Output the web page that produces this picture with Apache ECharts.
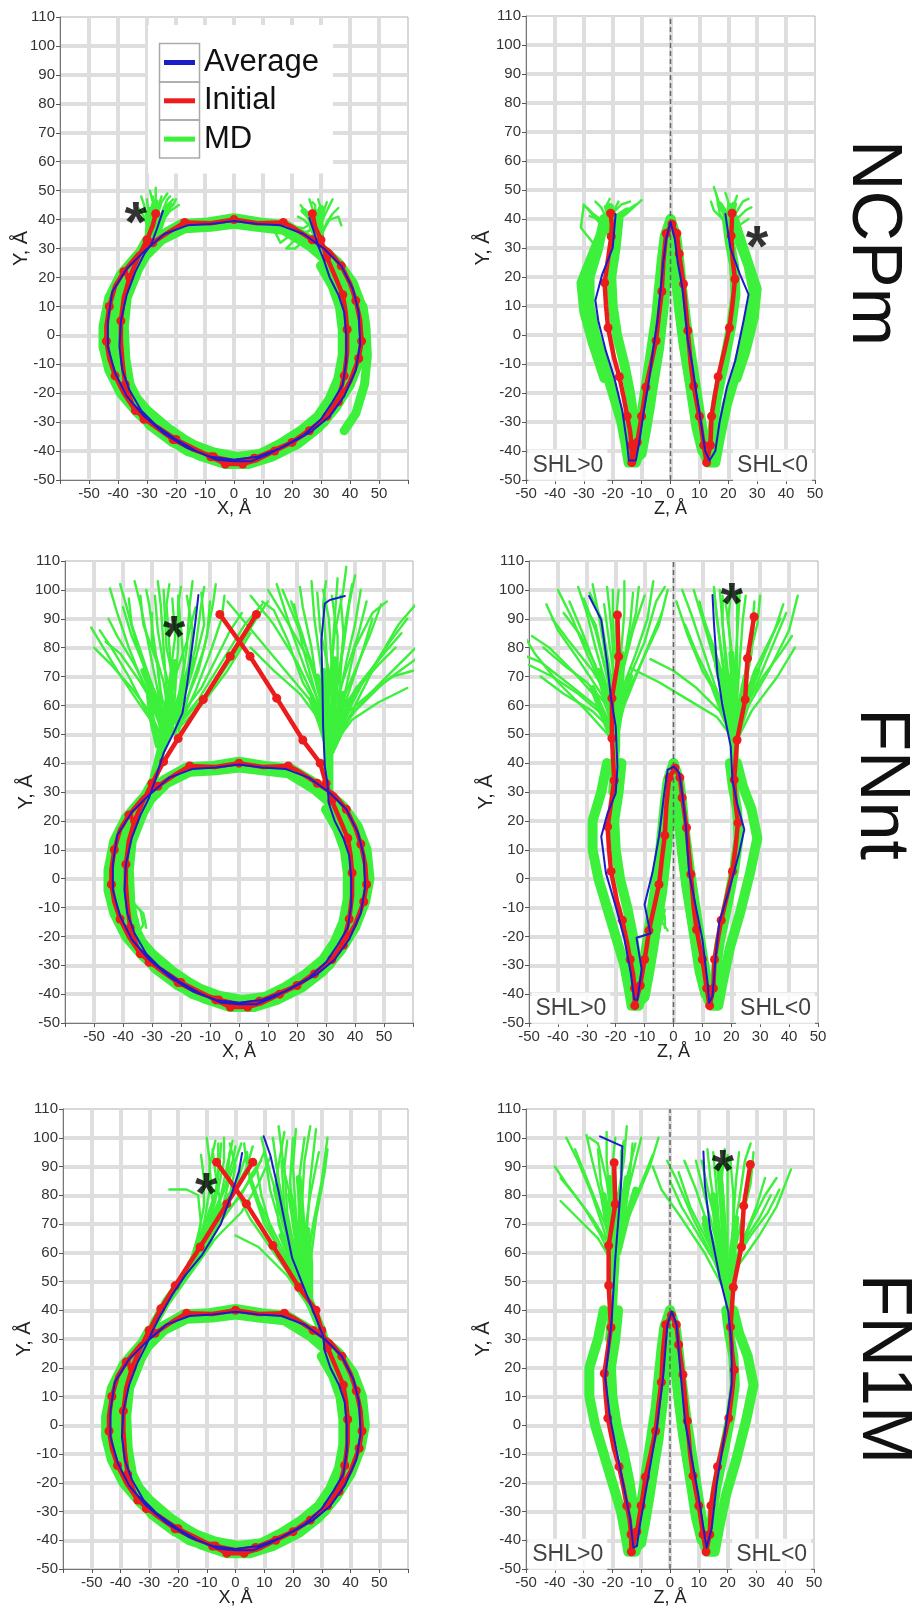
<!DOCTYPE html>
<html>
<head>
<meta charset="utf-8">
<script src="https://cdn.jsdelivr.net/npm/echarts@6/dist/echarts.min.js"></script>
<style>
  html, body { margin: 0; padding: 0; background: #fff; }
  #chart { width: 914px; height: 1606px; }
</style>
</head>
<body>
<div id="chart"></div>
<script>
// Axis ranges (Å) and tick step
const tickStep = 10;
const rangeXY = [-60, 60];
const rangeZY = [-50, 50];
const rangeY = [-50, 110];
const xLabelLimit = 50;

// ---------- Initial structure, X–Y projection: [x, y, bead] ----------
const coreInitialXY = [
  [-30,33,1],[-33,27,0],[-36,20,1],[-38,13,0],[-39,5,1],[-39,-2,0],[-38.5,-9,0],[-37.5,-17,1],[-35,-24,0],
  [-31,-29,1],[-26,-32,0],[-20,-36,1],[-14,-39,0],[-8,-42,1],[-3,-44.5,1],[3,-44.5,1],[8,-43,0],[14,-40,1],
  [20,-37,0],[26,-33,1],[31,-29,0],[36,-23,1],[40,-16,0],[43,-8,1],[44,-2,1],[43.5,5,0],[42,12,1],[40,18,0],
  [37,24,1],[33,29,0],[27,33,1],[20,37.5,0],[17,39,1],[8,38.7,0],[0,40,1],[-8,38.7,0],[-17,39,1],[-22,36,0],
  [-28,32,1],[-33,28,0],[-38,22,1],[-41,17,0],[-43,10,1],[-44,3,0],[-44,-2,1],[-43,-8,0],[-41,-14,1],
  [-38,-20,0],[-34,-26,1],[-28,-31,0],[-21,-36,1],[-14,-39.5,0],[-7,-42,1],[0,-43.5,0],[7,-42.5,1],
  [13,-40,0],[20,-37,1],[27,-32,0],[32,-28,1],[36,-22,0],[38,-14,1],[39,-6,0],[39,2,1],[38.5,8,0],
  [37.5,14,1],[35,20,0],[32,27,1],[30,33,1]
];
const ncpmInitialLeftXY = [[-27,42,1],[-28,38,0]];
const ncpmInitialRightXY = [[28,37.5,0],[27,42,1]];
const linkerInitialLeftXY = [[6,91.5,1],[-3,77,1],[-12.3,62,1],[-21,48.5,1],[-26,40.5,1]];
const linkerInitialRightXY = [[28,40,1],[22,48,1],[13,62.5,1],[3.8,77,1],[-6.6,91.5,1]];

// ---------- Initial structure, Z–Y projection: [z, y, bead] ----------
const coreInitialZY = [
  [-20.5,34,1],[-21.5,27,0],[-22.8,18,1],[-22.3,10,0],[-21.6,2.5,1],[-19.5,-8,0],[-17.7,-14.4,1],[-16.3,-21,0],
  [-15,-28,1],[-14,-33,0],[-13.5,-38,1],[-13.4,-44,1],[-11.5,-37,1],[-10,-28,1],[-9.2,-23,0],[-8.5,-18,1],
  [-6.5,-9,0],[-5,-2,1],[-4,7,0],[-3,15,1],[-2.5,25,0],[-1.5,35,1],[0.5,38.3,1],[2.2,35,1],[3,28,1],
  [4.5,17.6,1],[5.2,10,0],[6,1.5,1],[7,-10,0],[8,-17.6,1],[9,-23,0],[10,-28,1],[11.5,-38,1],[12.5,-44,1],
  [13.8,-38,1],[14.2,-28,1],[15.5,-20,0],[16.5,-14.4,1],[18.5,-6,0],[20.4,2.5,1],[21.5,11,0],[22.3,19.3,1],
  [21.5,26,0],[21,34.2,1]
];
const ncpmInitialLeftZY = [[-20.7,42,1],[-20.3,38,0]];
const ncpmInitialRightZY = [[21.2,38,0],[21.3,42,1]];
const linkerInitialLeftZY = [[-19.4,91.3,1],[-19,76.9,1],[-21.3,62.5,1],[-21.3,48.6,1]];
const linkerInitialRightZY = [[22,48,1],[24.8,62,1],[25.6,76.3,1],[27.9,90.7,1]];

// ---------- Average MD structure, X–Y projection ----------
const coreAverageXY = [
  [-31,28],[-34,22],[-37,14],[-39,5],[-39.5,-4],[-38.5,-12],[-36,-19],[-32,-26],[-27,-31],[-20,-36],[-13,-40],
  [-6,-43],[0,-43.5],[6,-43.5],[12,-41],[20,-37],[27,-33],[33,-28],[38,-21],[42,-12],[43.5,-3],[43,8],[41,16],
  [37,24],[31,30],[24,35],[16,38],[8,38.5],[0,39.5],[-8,38.5],[-16,38],[-24,35],[-31,29],[-37,23],[-42,15],
  [-43.5,5],[-43.5,-4],[-41,-13],[-37,-21],[-31,-28],[-24,-34],[-16,-39],[-8,-42],[0,-43],[8,-42],[16,-39],
  [24,-34.5],[30,-29],[34,-23],[37.5,-17],[38.7,-9],[38.7,0],[38,8],[36,14],[33,20],[31,26]
];
const ncpmAverageLeftXY = [[-24.5,43],[-26.5,37],[-28.5,31.5]];
const ncpmAverageRightXY = [[29,31],[27.5,36],[26,40.5]];
const fnntAverageLeftXY = [[-14,98.2],[-15.1,88.4],[-16.3,79.2],[-18,66.5],[-19.5,57.3],[-22.6,50.4],[-26,43.5],[-28.9,34.2]];
const fnntAverageRightXY = [[30.5,33],[29.6,38.8],[29,52.7],[28.8,66.5],[28.4,82.6],[29.6,95.3],[31.3,96.5],[36.5,97.9]];
const fn1mAverageLeftXY = [[2.3,94.7],[1.2,88.3],[-1.5,80],[-5.2,69.8],[-11.6,59.3],[-17.3,52.4],[-22,45.4],[-26.6,37.3],[-28.9,32.7]];
const fn1mAverageRightXY = [[30.5,31],[28.9,35],[24.3,46.6],[19.7,58.2],[17.3,69.8],[15,81.3],[12.1,94],[9.8,100.5]];

// ---------- Average MD structure, Z–Y projection ----------
const ncpmAverageZY = [
  [-19,41.7],[-20,30],[-23.6,21],[-26,12],[-25,5],[-22.4,-5.4],[-19.5,-14.6],[-16.7,-26],[-15,-37.6],[-14.4,-43.3],
  [-12,-43.3],[-10.8,-37],[-9.5,-28],[-7.5,-16],[-6,-5],[-4.5,5],[-3.5,15],[-2.5,25],[-1.5,33],[0,39],[1.5,33],
  [2.5,25],[4,17],[5,8],[6,-2],[7.5,-10],[8.5,-17],[10.5,-30],[12,-40],[13.5,-43.3],[15.5,-40],[17,-30],
  [19.5,-18],[22.4,-8.9],[25.3,5],[27,14],[24,21],[20.7,30],[19,41.7]
];
const fnntAverageZY = [
  [-29.2,97.9],[-25,89.6],[-23,75],[-21.7,63],[-20,52.7],[-19.4,38.8],[-20,29.6],[-22.8,22.7],[-25,14.6],[-23.4,2],
  [-20,-9.6],[-17,-21],[-14.8,-32.6],[-13.6,-41.8],[-12.5,-42],[-11,-31.5],[-12.8,-20.5],[-8,-19],[-10,-9],[-7.3,2],
  [-5,14.6],[-3.2,29.6],[-2,37.7],[0.2,38.8],[2,36.5],[3,29.6],[4.3,18],[5.4,2],[7.7,-9.6],[10,-21],[11.8,-36],
  [12.3,-43],[13.5,-40.7],[14.5,-28],[15.8,-15.3],[19.3,-3.8],[22.7,8.9],[24.5,17],[22,26],[20.4,34],[19.8,45.8],
  [17,59.6],[15.2,71],[14,88.4],[13.5,98.2]
];
const fn1mAverageZY = [
  [-24.3,100.5],[-16.5,97],[-17,83.7],[-17.9,72],[-19,58],[-20.2,37.3],[-21.4,25.7],[-22.5,16.5],[-20.8,2.5],
  [-18.5,-9],[-16.2,-20.6],[-13.9,-32.2],[-12.7,-42.6],[-11.5,-42],[-10.4,-34.5],[-7,-14.8],[-4.6,-1],[-2.3,17.6],
  [-0.9,35],[0.6,39.6],[2.3,35],[3.5,20],[5.2,1.4],[7.5,-11.4],[9.8,-24],[11.6,-35.7],[12.7,-42.6],[14.5,-35.7],
  [16.2,-20.6],[19,-3.2],[21.4,14],[21.4,28],[20.2,39.6],[17.3,51.2],[13.9,68.6],[12.1,83.7],[11.6,95.2]
];

// ---------- MD trajectories: dense core envelope (drawn wide) ----------
const mdCoreXY = [
  [[-30,33],[-35,24],[-39,15],[-41,5],[-41,-6],[-39,-15],[-35,-23],[-29,-31],[-21,-37],[-12,-41.5],[-3,-44.5],
   [5,-44.5],[13,-42],[22,-37.5],[29,-32],[35,-25],[40,-17],[43.5,-8],[45,0],[44,10],[41,18],[36,25],[28,32],
   [18,38],[9,39],[0,40.5],[-9,39],[-18,38.5],[-26,34],[-33,28],[-39,21],[-43,13],[-45,3],[-45,-4],[-43,-12],
   [-39,-20],[-33,-27],[-25,-34],[-16,-40],[-7,-43],[1,-44],[9,-43],[17,-40],[25,-35],[31,-30],[36,-23],[39,-15],
   [40.5,-6],[40.5,3],[39.5,12],[36,19],[32,26]],
  [[-28,32],[-33,23],[-37,13],[-38,3],[-37.5,-8],[-36,-17],[-32,-25],[-26,-31],[-19,-35],[-11,-39.5],[-3,-42.5],
   [5,-42.5],[13,-39.5],[21,-35.5],[28,-30.5],[33,-24],[37.5,-16],[41.5,-7],[42.5,2],[41.5,11],[38,18],[33,25],
   [26,31],[17,36.5],[8,37.5],[0,38.5],[-8,37.5],[-17,37],[-25,33],[-31,27],[-37,20],[-40.5,12],[-42,3],[-42,-5],
   [-40,-12],[-36,-19],[-30,-26],[-23,-32],[-15,-37.5],[-7,-40.5],[1,-42],[9,-41],[16,-37.5],[23,-33],[29,-28],
   [33,-22],[36,-15],[37.5,-7],[37.5,2],[36.5,10],[34,17],[30,24]]
];
const mdCoreZY = [
  [[-23,40],[-25,30],[-28,20],[-28,10],[-26,0],[-23,-10],[-20,-20],[-17,-30],[-15.5,-38],[-14.5,-44],[-12,-44],
   [-10,-38],[-8,-28],[-6,-17],[-4,-5],[-2.5,8],[-1.5,20],[-0.8,32],[0,40],[1,33],[2,22],[3.5,10],[5,-2],[7,-14],
   [9,-26],[11,-37],[13,-44],[15.5,-44],[17,-36],[19.5,-24],[23,-12],[26.5,2],[29,14],[27,24],[24,32],[22,40]],
  [[-18,40],[-19,30],[-20.5,20],[-20,10],[-18.5,0],[-16,-10],[-14,-20],[-12.5,-30],[-12,-38],[-12.5,-43],[-10,-41],
   [-8.5,-33],[-7,-24],[-5.5,-13],[-4,-2],[-3,10],[-2,22],[-1,33],[0,38],[0.8,30],[2,20],[3,9],[4.5,-3],[6.5,-15],
   [8.5,-26],[10.5,-35],[12,-42],[14,-41],[14.5,-33],[16,-22],[18.5,-10],[21,3],[22.5,14],[22,24],[20.5,32],[19.5,40]],
  [[-13,-42],[-11,-34],[-9.5,-24],[-8,-14],[-6.5,-4],[-5,6],[-4,16],[-3,26],[-2,34],[0,40],[2,34],[3,26],[4,16],
   [5.5,4],[7,-6],[8.5,-16],[10,-26],[11.5,-35],[12.5,-42]],
  [[-12,-40],[-9,-32],[-7,-22],[-5.5,-12],[-4,-2],[-3,8],[-2,18],[-1,28],[0,36],[1,28],[2,18],[3.2,8],[4.5,-2],
   [6,-12],[7.5,-22],[9,-32],[11,-40]]
];

// ---------- MD trajectories: arm envelopes (drawn wide) ----------
const ncpmBandXY = [
  [[-29.5,32],[-29,38],[-28.5,43]], [[29.5,31],[29.5,37],[29,42]],
  [[38,-33],[42,-27],[45,-17],[46,-7],[45.5,3],[44.5,10]]
];
const ncpmBandZY = [
  [[-22,40],[-27,28],[-31,18],[-30,8],[-27,-3],[-23,-15]], [[22,40],[26,28],[30,16],[29,6],[26,-6],[23,-15]],
  [[-20.5,34],[-21,40],[-21,44]], [[21,34],[21,40],[21,44]]
];
const fnntBandXY = [
  [[-31,28],[-29,36],[-27,44],[-25,52],[-23,58]], [[31,27],[31,35],[31,44],[32,52]]
];
const fnntBandZY = [
  [[-21,30],[-20.5,38],[-20,46],[-20,54]], [[21,30],[21,38],[21,46],[21.5,54]]
];
const fn1mBandXY = [
  [[-31,28],[-28,36],[-24,43],[-19,50],[-14,57],[-9,64]], [[32,26],[30,33],[27,40],[24,47],[21,55],[19,62]]
];
const fn1mBandZY = [
  [[-21,30],[-20,40],[-19.5,50],[-19,58]], [[21,30],[21,38],[20.5,46],[20,52]]
];

// ---------- MD trajectories: crowded bases of the linker fans (medium width) ----------
const ncpmDenseXY = [
  [[-28,34],[-28,42],[-27,46]], [[-26,36],[-24,42],[-22,45]], [[29,34],[29,40],[30,44]], [[28,36],[26,41],[24,43]]
];
const ncpmDenseZY = [
  [[-21,36],[-21,41],[-22,44]], [[-20,37],[-18,41],[-15,43]], [[21,36],[21,41],[22,45]], [[21,37],[19,42],[17,45]]
];
const fnntDenseXY = [
  [[-27,45],[-26,55],[-24,65],[-22,75]], [[-25,48],[-22,58],[-18,68]], [[-28,46],[-30,55],[-31,63]],
  [[-26,50],[-29,62],[-33,72]], [[-24,52],[-20,64],[-16,76]],
  [[31,42],[31,52],[30,62],[29,72]], [[32,44],[34,54],[36,64]], [[31,44],[28,54],[25,62]],
  [[32,48],[30,60],[27,70]], [[33,48],[37,58],[41,66]], [[31,46],[33,64],[33,76]]
];
const fnntDenseZY = [
  [[-20,45],[-21,58],[-22,70]], [[-20,48],[-18,60],[-15,70]], [[-21,48],[-25,58],[-28,66]],
  [[-20,50],[-23,62],[-26,72]], [[-20,52],[-19,66],[-18,78]],
  [[21,45],[20,58],[19,70]], [[21,48],[23,60],[25,70]], [[21,48],[17,58],[14,66]],
  [[21,50],[21,64],[20,78]], [[22,50],[25,62],[29,72]], [[21,50],[18,62],[15,74]]
];
const fn1mDenseXY = [
  [[-20,48],[-14,58],[-8,68],[-3,78]], [[-16,56],[-10,66],[-6,76]], [[-18,52],[-12,60],[-6,70],[-2,80]],
  [[25,44],[23,55],[21,68],[19,80]], [[24,46],[20,56],[16,66]], [[26,44],[26,56],[25,68]],
  [[25,44],[21,58],[17,70],[14,82]], [[25,44],[24,60],[23,74],[22,86]]
];
const fn1mDenseZY = [
  [[-19,55],[-19,68],[-18,80]], [[-19,58],[-21,70],[-23,80]], [[-18,60],[-15,72],[-12,82]],
  [[-19,56],[-20,72],[-21,86]], [[-19,56],[-17,72],[-15,86]],
  [[20,45],[18,58],[16,70],[15,80]], [[20,48],[22,60],[23,72]], [[19,50],[15,62],[12,72]],
  [[20,46],[19,62],[18,78],[17,90]], [[20,46],[16,58],[12,70]]
];

// ---------- MD trajectories: individual linker paths ----------
const ncpmLinesXY = [
  [[-28,34],[-30,40],[-31,45],[-32,48]], [[-28,34],[-29,41],[-28,46],[-29,50]], [[-27,33],[-27,40],[-26,45],[-25,48]],
  [[-27,34],[-26,40],[-24,44],[-21,47]], [[-26,33],[-25,39],[-22,43],[-19,45]], [[-29,35],[-31,41],[-33,44]],
  [[-28,35],[-28,42],[-27,47],[-27,51]], [[-27,35],[-26.5,41],[-25,46],[-23,49]], [[-28,36],[-29.5,42],[-30,47]],
  [[-26,36],[-24,42],[-21,45],[-20,47]], [[-27,36],[-27,43],[-28,48]], [[-26,35],[-25,42],[-23,47],[-22,48]],
  [[29,33],[28,40],[27,44],[26,47]], [[29,33],[30,39],[31,43],[32,46]], [[30,34],[32,39],[34,42],[36,44]],
  [[29,34],[29,40],[30,44],[29,47]], [[28,34],[27,39],[25,42],[23,45]], [[30,35],[33,40],[36,41],[37,38]],
  [[28,33],[26,38],[24,40],[22,41]], [[29,35],[31,41],[33,45],[34,47]], [[29,35],[28,41],[28,45],[27,46]],
  [[26,36],[20,35],[16,32],[14,36],[18,38],[24,37],[27,39]], [[27,37],[21,33],[18,30],[21,30],[26,34]],
  [[40,-30],[44,-22],[46,-12],[45,0]]
];
const ncpmLinesZY = [
  [[-21,34],[-22,40],[-24,44],[-26,46]], [[-21,34],[-20,40],[-19,44],[-18,46]], [[-20,35],[-18,40],[-15,43],[-12,45]],
  [[-21,35],[-23,39],[-27,42],[-29,44]], [[-20,34],[-19,39],[-15,42],[-10,46.5]], [[-21,36],[-21,41],[-22,45],[-21,47]],
  [[-22,35],[-25,40],[-28,41]], [[-24,38],[-30,45],[-31,37],[-27,32]], [[-21,36],[-20,42],[-17,45],[-14,46]],
  [[21,34],[19,40],[17,45],[15,51]], [[21,34],[21,40],[22,45],[23,48]], [[21,35],[23,40],[26,43],[28,44]],
  [[20,35],[18,40],[15,43],[14,46]], [[21,36],[22,41],[25,46],[27,47]], [[22,34],[24,38],[27,40]],
  [[20,34],[19,38],[17,42],[16,48]], [[21,36],[20,42],[20,46],[19,49]]
];
const fnntLinesXY = [
  [[-26,50],[-32,65],[-38,80],[-42,92],[-44.5,100.5]], [[-25,50],[-30,65],[-35,80],[-39,95],[-41,102]],
  [[-25,50],[-28,65],[-31,80],[-34,95],[-36,103]], [[-24,50],[-27,65],[-29,80],[-31,95],[-32,100]],
  [[-24,50],[-25,65],[-26,80],[-27,95],[-28,103]], [[-23,50],[-23,65],[-24,80],[-25,95],[-24,102]],
  [[-23,50],[-22,65],[-21,80],[-21,95],[-20,101]], [[-22,50],[-20,65],[-18,80],[-17,95],[-16,103]],
  [[-22,50],[-19,65],[-15,80],[-13,95],[-12,101]], [[-21,50],[-17,65],[-12,80],[-9,95],[-8,102]],
  [[-21,52],[-15,65],[-10,78],[-6,90],[-5,98]], [[-22,52],[-14,62],[-6,75],[2,88],[8,95]],
  [[-23,50],[-13,60],[-4,72],[4,85]], [[-27,48],[-33,60],[-38,70],[-44,80],[-48,86]],
  [[-27,50],[-34,60],[-42,72],[-51,87]], [[-26,52],[-30,62],[-36,74],[-42,84],[-45,90]],
  [[-24,55],[-26,68],[-30,82],[-30,92]], [[-25,52],[-29,64],[-33,76],[-37,88],[-38,97]],
  [[-23,53],[-24,68],[-22,84],[-23,97]], [[-22,55],[-18,70],[-16,86],[-18,98]],
  [[-22,52],[-10,65],[0,80],[6,90],[10,96]], [[-24,52],[-20,60],[-16,72],[-12,88],[-13,99]],
  [[-26,48],[-31,58],[-37,66],[-44,74],[-50,80]], [[-25,50],[-27,60],[-32,72],[-37,84],[-40,94]],
  [[-24,52],[-23,62],[-26,74],[-28,86],[-29,98]], [[-23,52],[-21,62],[-19,74],[-20,86],[-21,98]],
  [[-22,52],[-18,62],[-14,72],[-11,84],[-10,96]], [[-25,50],[-28,58],[-34,68],[-41,78],[-46,82]],
  [[-24,50],[-24,60],[-22,70],[-18,82],[-15,94]], [[-26,50],[-27,62],[-28,74],[-33,88],[-34,98]],
  [[-22,54],[-13,66],[-8,76],[-3,86],[1,92]], [[-24,52],[-22,66],[-25,80],[-26,100]],
  [[31,45],[29,60],[25,75],[20,88],[15,100]], [[31,45],[27,60],[20,75],[12,88],[4,98]],
  [[31,45],[26,60],[16,72],[6,84],[-4,96]], [[31,45],[28,60],[23,72],[18,86],[13,102]],
  [[31,45],[30,60],[28,75],[26,90],[25,103]], [[32,45],[32,60],[32,75],[33,90],[34,104]],
  [[32,45],[33,60],[35,75],[37,90],[39,102]], [[32,45],[34,60],[37,75],[40,88],[42,100]],
  [[32,45],[35,60],[40,72],[45,84],[49,95]], [[33,45],[37,58],[44,70],[52,82],[58,90]],
  [[33,45],[38,56],[47,66],[55,74],[61,80]], [[33,47],[39,55],[48,61],[58,66]],
  [[32,45],[35,58],[42,68],[50,78],[56,85]], [[32,45],[33,62],[36,80],[38,95],[40,105]],
  [[31,45],[31,62],[30,80],[29,95],[30,103]], [[31,47],[28,58],[22,68],[17,82],[12,93],[8,96]],
  [[31,47],[27,62],[22,80],[19,95]], [[33,45],[36,62],[40,80],[46,92],[51,96]],
  [[33,48],[40,58],[50,68],[61,76]], [[33,45],[40,60],[48,76],[55,88],[61,95]],
  [[32,46],[30,56],[27,66],[25,80],[22,94],[21,101]], [[32,46],[34,56],[35,70],[36,85],[35,98]],
  [[32,46],[31,65],[33,85],[36,100],[37,108]],
  [[31,46],[29,58],[26,70],[22,84],[18,96]], [[32,46],[33,58],[34,70],[34,84],[32,98]],
  [[32,46],[35,56],[39,68],[43,80],[46,90]], [[32,46],[30,58],[31,72],[28,86],[27,99]],
  [[33,46],[37,56],[41,66],[48,74],[54,80]], [[31,46],[27,56],[21,64],[12,72],[4,80]],
  [[32,46],[33,60],[37,72],[41,84],[44,96]], [[31,46],[29,62],[24,76],[16,90],[10,100]],
  [[33,47],[38,58],[45,64],[53,70],[60,72]], [[32,46],[31,60],[32,74],[31,90],[29,100]],
  [[-37,-8],[-34,-11],[-33,-16],[-35,-19]], [[-36,-9],[-33,-12],[-32,-17]], [[-37,-10],[-35,-14],[-34,-19]]
];
const fnntLinesZY = [
  [[-20,50],[-26,62],[-35,72],[-43,80],[-49,84]], [[-20,50],[-25,64],[-33,76],[-40,86],[-44,95]],
  [[-20,50],[-24,65],[-30,78],[-35,90],[-40,100]], [[-20,50],[-23,66],[-27,80],[-30,92],[-33,101]],
  [[-20,50],[-22,66],[-24,80],[-26,92],[-28,102]], [[-20,50],[-21,66],[-21,80],[-22,92],[-23,101]],
  [[-20,50],[-20,66],[-18,80],[-17,92],[-17,103]], [[-20,50],[-19,66],[-16,80],[-13,92],[-12,101]],
  [[-20,50],[-18,65],[-13,78],[-9,90],[-7,103]], [[-20,50],[-17,62],[-11,75],[-5,88],[-2,100]],
  [[-20,50],[-27,60],[-37,68],[-46,75],[-51,77]], [[-20,50],[-28,58],[-38,64],[-46,70]],
  [[-21,48],[-30,58],[-40,68],[-48,78],[-51,83]], [[-20,52],[-23,70],[-27,88],[-31,95]],
  [[-20,52],[-19,70],[-20,88],[-19,100]], [[-20,50],[-16,68],[-10,82],[-6,96],[-3,101]],
  [[-20,52],[-25,68],[-31,84],[-36,96]], [[-20,52],[-22,72],[-25,90],[-29,99]],
  [[-20,50],[-22,62],[-28,72],[-36,82],[-42,90]], [[-20,50],[-21,62],[-24,74],[-27,86],[-31,97]],
  [[-20,50],[-19,62],[-20,76],[-21,88],[-21,100]], [[-20,50],[-18,62],[-17,76],[-15,88],[-14,99]],
  [[-20,50],[-23,60],[-30,68],[-38,74],[-45,80]], [[-20,50],[-17,60],[-13,70],[-9,80],[-4,92]],
  [[-20,50],[-24,62],[-27,74],[-32,84],[-38,92]], [[-20,52],[-20,66],[-22,80],[-24,95]],
  [[-20,52],[-18,70],[-14,86],[-10,98]], [[-20,50],[-26,58],[-33,64],[-42,70],[-50,74]],
  [[21,48],[18,62],[14,76],[10,90],[7,100]], [[21,48],[17,60],[10,72],[5,84],[1,96]],
  [[21,48],[19,62],[17,76],[15,90],[14,101]], [[21,48],[20,62],[20,76],[19,90],[20,101]],
  [[21,48],[22,62],[23,76],[24,90],[25,98]], [[22,48],[23,62],[26,76],[29,88],[30,98]],
  [[22,48],[25,62],[30,74],[35,86],[38,95]], [[22,48],[26,60],[33,72],[40,86],[43,98]],
  [[22,48],[24,60],[28,72],[33,82],[37,90]], [[21,48],[16,58],[8,66],[0,72],[-8,76]],
  [[21,48],[15,56],[5,62],[-5,68],[-15,73]], [[21,50],[18,66],[16,82],[14,100]],
  [[22,50],[21,68],[22,84],[23,100]], [[21,48],[16,62],[10,80],[6,92],[3,100]],
  [[22,48],[27,58],[36,70],[42,80]], [[21,50],[19,70],[17,88],[17,98]],
  [[21,48],[19,60],[16,72],[12,84],[9,96]], [[21,48],[20,60],[18,74],[17,88],[16,100]],
  [[21,48],[22,60],[22,74],[22,88],[22,99]], [[21,48],[23,60],[25,72],[27,84],[28,96]],
  [[21,48],[24,58],[29,68],[34,80],[39,92]], [[21,48],[18,58],[13,68],[8,78],[4,88]],
  [[21,48],[25,60],[31,70],[37,78],[41,84]], [[21,48],[21,64],[20,80],[18,96]],
  [[21,48],[19,64],[14,80],[9,94]], [[21,48],[24,62],[27,78],[28,92]],
  [[-6,-8],[-3,-11],[-4,-15],[-2,-18]], [[-5,-9],[-3,-13],[-3,-17]]
];
const fn1mLinesXY = [
  [[-15,58],[-10,70],[-6,82],[-4,92],[-4,100]], [[-15,58],[-9,70],[-4,82],[-1,92],[0,97]],
  [[-15,58],[-8,68],[-1,80],[4,90],[6,97]], [[-14,58],[-7,68],[0,78],[7,88],[10,95]],
  [[-15,58],[-11,70],[-9,82],[-9,92],[-10,100]], [[-15,58],[-12,70],[-13,80],[-17,82],[-23,82]],
  [[-14,60],[-8,72],[-3,84],[-2,95]], [[-13,58],[-6,66],[2,74],[8,84],[12,93]],
  [[-16,55],[-10,64],[-5,76],[-7,88],[-8,96]], [[-14,58],[-9,72],[-6,86],[-5,98]],
  [[-12,60],[-6,70],[-2,86],[2,98]], [[-16,56],[-12,66],[-8,78],[-9,90],[-7,99]],
  [[-15,58],[-10,68],[-7,78],[-6,90],[-6,98]], [[-14,58],[-8,66],[-3,76],[1,86],[4,95]],
  [[-13,60],[-9,70],[-5,80],[-3,90],[-1,99]], [[-16,56],[-13,66],[-11,76],[-11,86],[-12,94]],
  [[-12,62],[-5,72],[2,80],[6,88],[9,92]], [[-14,58],[-7,70],[-2,80],[0,90],[-2,98]],
  [[25,42],[22,55],[18,70],[15,85],[13,100]], [[25,42],[21,55],[16,68],[12,82],[10,96]],
  [[25,42],[20,54],[14,66],[8,78],[4,90],[3,98]], [[25,42],[19,52],[12,62],[5,72],[0,82]],
  [[25,42],[22,56],[20,70],[19,85],[20,100]], [[25,42],[23,56],[22,70],[22,85],[24,100]],
  [[25,42],[24,56],[25,70],[26,85],[28,103]], [[25,42],[25,56],[27,70],[30,85],[32,100]],
  [[25,42],[18,52],[8,62],[0,66]], [[25,42],[20,55],[15,70],[14,85],[17,102]],
  [[25,42],[19,55],[10,70],[5,85],[4,95]], [[25,42],[23,55],[21,72],[17,88],[15,104]],
  [[25,42],[24,58],[23,75],[24,92],[26,104]], [[25,42],[21,58],[18,74],[17,90],[18,99]],
  [[25,42],[22,54],[19,66],[16,78],[14,92]], [[25,42],[22,58],[21,74],[20,90],[21,103]],
  [[25,42],[24,54],[24,66],[26,80],[29,95]], [[25,42],[21,52],[15,62],[10,72],[6,84]],
  [[25,42],[20,58],[16,74],[12,88],[9,100]], [[25,42],[23,54],[20,64],[17,76],[16,92]],
  [[25,42],[26,56],[28,72],[31,88],[32,96]], [[25,42],[19,54],[13,66],[9,80],[7,92]]
];
const fn1mLinesZY = [
  [[-19,55],[-24,66],[-30,76],[-36,84],[-40,90]], [[-19,55],[-23,68],[-27,80],[-32,92],[-36,100]],
  [[-19,55],[-22,68],[-24,80],[-27,92],[-29,101]], [[-19,55],[-21,68],[-21,80],[-22,92],[-22,102]],
  [[-19,55],[-19,68],[-18,80],[-16,92],[-15,104]], [[-19,55],[-18,68],[-15,80],[-12,92],[-10,100]],
  [[-19,55],[-17,66],[-12,78],[-7,90],[-4,100]], [[-19,55],[-25,65],[-32,72],[-38,78]],
  [[-19,55],[-20,70],[-22,85],[-25,98],[-28,100]], [[-19,55],[-18,70],[-17,85],[-17,95],[-16,99]],
  [[-19,55],[-16,70],[-14,86],[-13,98]],
  [[-19,55],[-21,66],[-25,76],[-29,86],[-33,96]], [[-19,55],[-20,66],[-20,78],[-20,90],[-19,100]],
  [[-19,55],[-18,66],[-17,78],[-14,90],[-12,98]], [[-19,55],[-22,64],[-27,72],[-33,80],[-38,86]],
  [[-19,55],[-17,64],[-14,74],[-10,84],[-6,94]], [[-19,55],[-21,70],[-24,84],[-25,96]],
  [[20,45],[17,58],[13,70],[9,82],[5,92]], [[20,45],[16,56],[10,66],[4,76],[0,85]],
  [[20,45],[18,58],[16,72],[14,86],[13,96]], [[20,45],[19,58],[19,72],[18,86],[19,96]],
  [[20,45],[21,58],[22,72],[23,86],[24,95]], [[20,45],[22,58],[25,72],[28,84],[29,95]],
  [[20,45],[23,58],[28,70],[33,80],[37,86]], [[20,45],[24,56],[31,66],[37,76],[42,89]],
  [[20,45],[22,56],[28,66],[34,74],[38,82]], [[20,45],[15,58],[8,72],[2,86],[-1,92]],
  [[20,45],[18,62],[14,78],[11,92]], [[20,45],[21,62],[24,78],[26,92],[28,98]],
  [[20,45],[12,60],[4,72],[-3,82],[-6,90]],
  [[20,45],[18,56],[15,68],[12,80],[9,92]], [[20,45],[19,58],[17,70],[16,84],[15,95]],
  [[20,45],[21,56],[22,68],[22,80],[21,92]], [[20,45],[22,56],[26,66],[30,76],[33,86]],
  [[20,45],[17,56],[12,66],[7,76],[3,88]], [[20,45],[23,56],[27,66],[31,72],[35,80]],
  [[20,45],[20,62],[20,78],[20,94]]
];

// Asterisk marks on the highlighted arm
const starNcpmXY = [-33.9, 42.6];
const starNcpmZY = [29.9, 34.3];
const starFnntXY = [-22.4, 87.5];
const starFnntZY = [20.2, 98.8];
const starFn1mXY = [-10.2, 84.2];
const starFn1mZY = [18.3, 92.4];

// Side annotations in the Z–Y panels
const shlLabels = ['SHL>0', 'SHL<0'];
const shlPositions = [[-35.5, -45], [35.3, -45]];
const systemNames = ['NCPm', 'FNnt', 'FN1M'];

// ---------- Styling ----------
const FONT = '"Liberation Sans", Arial, Helvetica, sans-serif';
const GREEN = '#3cf03c';
const RED = '#ec1c1c';
const BLUE = '#1c1cc8';
const CLEAR = 'rgba(0,0,0,0)';

// Panel layout (pixels)
const layout = [
  { left: 60,  top: 17,   width: 348, height: 463 },
  { left: 526, top: 16,   width: 289, height: 464 },
  { left: 65,  top: 561,  width: 348, height: 462 },
  { left: 529, top: 561,  width: 289, height: 462 },
  { left: 63,  top: 1109, width: 345, height: 460 },
  { left: 526, top: 1109, width: 288, height: 460 }
];
// Placement of the row titles on the right-hand axes of the side views
const rowTitleGap = [22, 27, 33];
const rowTitlePadding = [[0, 10, 0, 0], [0, 16, 0, 0], [0, 0, 0, 60]];

const panels = [
  { kind: 'XY', initial: [...ncpmInitialLeftXY, ...coreInitialXY, ...ncpmInitialRightXY],
    average: [...ncpmAverageLeftXY, ...coreAverageXY, ...ncpmAverageRightXY],
    core: mdCoreXY, bands: ncpmBandXY, dense: ncpmDenseXY, lines: ncpmLinesXY, star: starNcpmXY },
  { kind: 'ZY', initial: [...ncpmInitialLeftZY, ...coreInitialZY, ...ncpmInitialRightZY],
    average: ncpmAverageZY, core: mdCoreZY, bands: ncpmBandZY, dense: ncpmDenseZY, lines: ncpmLinesZY, star: starNcpmZY },
  { kind: 'XY', initial: [...linkerInitialLeftXY, ...coreInitialXY, ...linkerInitialRightXY],
    average: [...fnntAverageLeftXY, ...coreAverageXY, ...fnntAverageRightXY],
    core: mdCoreXY, bands: fnntBandXY, dense: fnntDenseXY, lines: fnntLinesXY, star: starFnntXY },
  { kind: 'ZY', initial: [...linkerInitialLeftZY, ...coreInitialZY, ...linkerInitialRightZY],
    average: fnntAverageZY, core: mdCoreZY, bands: fnntBandZY, dense: fnntDenseZY, lines: fnntLinesZY, star: starFnntZY },
  { kind: 'XY', initial: [...linkerInitialLeftXY, ...coreInitialXY, ...linkerInitialRightXY],
    average: [...fn1mAverageLeftXY, ...coreAverageXY, ...fn1mAverageRightXY],
    core: mdCoreXY, bands: fn1mBandXY, dense: fn1mDenseXY, lines: fn1mLinesXY, star: starFn1mXY },
  { kind: 'ZY', initial: [...linkerInitialLeftZY, ...coreInitialZY, ...linkerInitialRightZY],
    average: fn1mAverageZY, core: mdCoreZY, bands: fn1mBandZY, dense: fn1mDenseZY, lines: fn1mLinesZY, star: starFn1mZY }
];

const grids = [], xAxes = [], yAxes = [], series = [];

function addPath(i, name, pts, width, color, z) {
  series.push({
    type: 'line', name, xAxisIndex: i, yAxisIndex: i,
    data: pts.map(p => [p[0], p[1]]),
    symbol: 'none', silent: true, animation: false, z, clip: true,
    lineStyle: { color, width, cap: 'round', join: 'round' },
    itemStyle: { color }, emphasis: { disabled: true }
  });
}

panels.forEach((pn, i) => {
  const isXY = pn.kind === 'XY';
  grids.push(Object.assign({
    show: true, borderColor: '#b0b0b0', borderWidth: 1, backgroundColor: '#fff',
    outerBoundsMode: 'none', containLabel: false
  }, layout[i]));
  const xr = isXY ? rangeXY : rangeZY;
  xAxes.push({
    type: 'value', gridIndex: i, min: xr[0], max: xr[1], interval: tickStep,
    name: isXY ? 'X, Å' : 'Z, Å', nameLocation: 'middle', nameGap: 20, nameMoveOverlap: false,
    nameTextStyle: { fontSize: 18, color: '#222', fontFamily: FONT },
    axisLine: { show: true, onZero: false, lineStyle: { color: '#777', width: 1 } },
    axisTick: { show: true, length: 4, lineStyle: { color: '#555' } },
    axisLabel: { fontSize: 15, color: '#333', margin: 6, fontFamily: FONT,
      showMinLabel: true, showMaxLabel: true,
      formatter: v => (Math.abs(v) > xLabelLimit ? '' : String(v)) },
    splitLine: { show: true, showMinLine: false, showMaxLine: false, lineStyle: { color: '#dedede', width: 4 } }
  });
  yAxes.push({
    type: 'value', gridIndex: i, min: rangeY[0], max: rangeY[1], interval: tickStep,
    name: 'Y, Å', nameLocation: 'middle', nameGap: isXY ? 29 : 33, nameMoveOverlap: false,
    nameTextStyle: { fontSize: 20, color: '#222', fontFamily: FONT },
    axisLine: { show: true, onZero: false, lineStyle: { color: '#777', width: 1 } },
    axisTick: { show: true, length: 4, lineStyle: { color: '#555' } },
    axisLabel: { fontSize: 15, color: '#333', margin: 5, fontFamily: FONT, showMinLabel: true, showMaxLabel: true },
    splitLine: { show: true, showMinLine: false, showMaxLine: false, lineStyle: { color: '#dedede', width: 4 } }
  });

  // MD ensemble
  pn.core.forEach(p => addPath(i, 'MD', p, 10, GREEN, 1));
  pn.bands.forEach(p => addPath(i, 'MD', p, 9, GREEN, 1));
  pn.dense.forEach(p => addPath(i, 'MD', p, 6, GREEN, 1));
  pn.lines.forEach(p => addPath(i, 'MD', p, 2.4, GREEN, 2));

  // dyad axis in the side views
  if (!isXY) {
    series.push({
      type: 'line', name: 'dyad', xAxisIndex: i, yAxisIndex: i,
      data: [[0, rangeY[0]], [0, rangeY[1]]], symbol: 'none', silent: true, animation: false, z: 3,
      lineStyle: { color: '#666', width: 1.5, type: [5, 3] }
    });
  }

  // initial structure with beads
  series.push({
    type: 'line', name: 'Initial', xAxisIndex: i, yAxisIndex: i,
    data: pn.initial.map(p => ({ value: [p[0], p[1]], symbol: p[2] ? 'circle' : 'none' })),
    symbolSize: 9, showSymbol: true, showAllSymbol: true, silent: true, animation: false, z: 4,
    lineStyle: { color: RED, width: 4.5, join: 'round', cap: 'round' },
    itemStyle: { color: RED }, emphasis: { disabled: true }
  });

  // average
  addPath(i, 'Average', pn.average, 2, BLUE, 5);

  // asterisk mark
  series.push({
    type: 'scatter', name: 'mark', xAxisIndex: i, yAxisIndex: i,
    data: [pn.star], symbolSize: 1, itemStyle: { color: CLEAR }, silent: true, animation: false, z: 6,
    label: { show: true, formatter: '*', position: 'inside', fontSize: 58, fontWeight: 'bold',
      color: '#000', fontFamily: FONT, offset: [0, 14] }
  });

  if (!isXY) {
    shlLabels.forEach((t, k) => {
      series.push({
        type: 'scatter', name: 'shl', xAxisIndex: i, yAxisIndex: i,
        data: [shlPositions[k]], symbolSize: 1, itemStyle: { color: CLEAR }, silent: true, animation: false, z: 7,
        label: { show: true, formatter: t, position: 'inside', fontSize: 23, color: '#111', fontFamily: FONT,
          backgroundColor: '#fff', padding: [5, 4, 4, 4] }
      });
    });
  }
});

// Row titles: names of the right-hand axes of the side-view panels
[1, 3, 5].forEach((gi, k) => {
  yAxes.push({
    type: 'value', gridIndex: gi, position: 'right', min: 0, max: 1,
    name: systemNames[k], nameLocation: 'middle', nameRotate: -90, nameGap: rowTitleGap[k], nameMoveOverlap: false,
    nameTextStyle: { fontSize: 70, color: '#111', fontFamily: FONT, padding: rowTitlePadding[k] },
    axisLine: { show: false }, axisTick: { show: false }, axisLabel: { show: false }, splitLine: { show: false }
  });
});

// legend symbol cells
const graphic = [[43.5, 38.5], [82, 38], [120, 38]].map(r => ({
  type: 'rect', z: 100, silent: true,
  shape: { x: 159.5, y: r[0], width: 40, height: r[1] },
  style: { fill: 'none', stroke: '#aaa', lineWidth: 1.5 }
}));

const chart = echarts.init(document.getElementById('chart'), null, { renderer: 'canvas' });
chart.setOption({
  backgroundColor: '#fff',
  animation: false,
  grid: grids,
  xAxis: xAxes,
  yAxis: yAxes,
  legend: {
    left: 148, top: 25, orient: 'vertical', z: 50,
    backgroundColor: '#fff', padding: [22, 14, 19, 16],
    itemWidth: 31, itemHeight: 5, itemGap: 7.3, selectedMode: false,
    textStyle: { fontSize: 31, lineHeight: 31, color: '#111', fontFamily: FONT, padding: [0, 0, 0, 4] },
    data: [
      { name: 'Average', icon: 'rect', itemStyle: { color: BLUE, borderWidth: 0 } },
      { name: 'Initial', icon: 'rect', itemStyle: { color: RED, borderWidth: 0 } },
      { name: 'MD', icon: 'rect', itemStyle: { color: GREEN, borderWidth: 0 } }
    ]
  },
  graphic: graphic,
  series: series
});
</script>
</body>
</html>
